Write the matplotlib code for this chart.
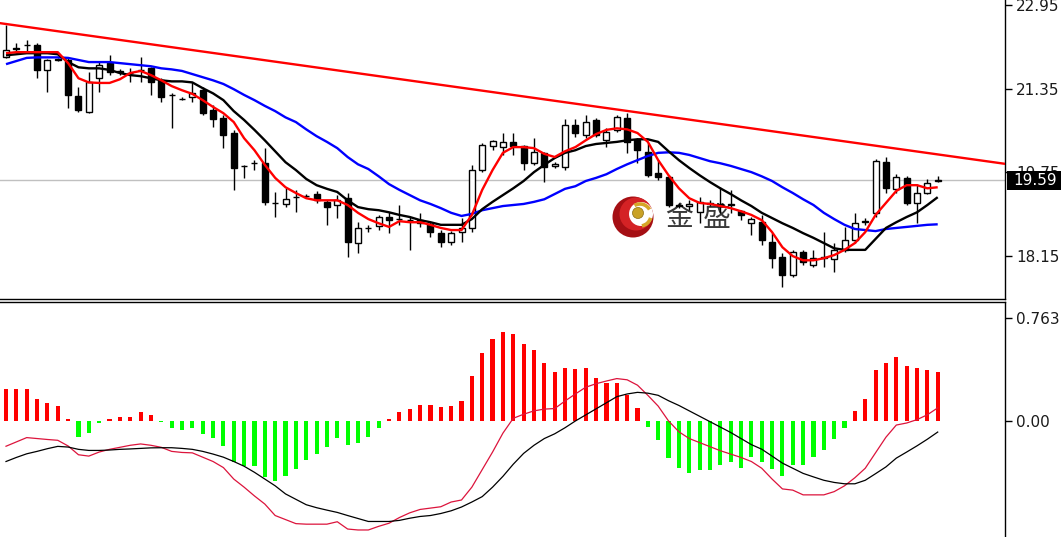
import matplotlib
matplotlib.use("Agg")
import matplotlib.pyplot as plt
from matplotlib.patches import Rectangle, Circle, Arc
from matplotlib.transforms import blended_transform_factory, Affine2D
import numpy as np

# ---------------- data ----------------
open_ = [21.95, 22.13, 22.18, 22.18, 21.71, 21.92, 21.90, 21.21, 20.90, 21.55,
         21.84, 21.69, 21.65, 21.71, 21.74, 21.51, 21.23, 21.15, 21.19, 21.32,
         20.94, 20.79, 20.50, 19.87, 19.92, 19.92, 19.16, 19.14, 19.27, 19.29,
         19.33, 19.18, 19.12, 19.25, 18.39, 18.68, 18.72, 18.89, 18.85, 18.83,
         18.83, 18.75, 18.58, 18.41, 18.60, 18.68, 19.79, 20.25, 20.23, 20.33,
         20.25, 19.92, 20.12, 19.87, 19.85, 20.65, 20.46, 20.75, 20.36, 20.56,
         20.79, 20.36, 20.13, 19.73, 19.66, 19.12, 19.10, 18.98, 19.16, 19.14,
         19.12, 19.00, 18.77, 18.79, 18.41, 18.12, 17.78, 18.22, 17.97, 18.10,
         18.08, 18.26, 18.45, 18.79, 18.97, 19.94, 19.43, 19.64, 19.16, 19.35,
         19.58]
high = [22.57, 22.22, 22.28, 22.22, 21.92, 21.94, 21.94, 21.38, 21.67, 21.86,
        21.99, 21.72, 21.74, 21.95, 21.76, 21.55, 21.26, 21.19, 21.47, 21.38,
        21.03, 20.84, 20.56, 19.89, 19.98, 20.21, 19.37, 19.44, 19.41, 19.33,
        19.39, 19.21, 19.31, 19.35, 18.79, 18.74, 18.93, 18.98, 19.12, 18.89,
        18.97, 18.79, 18.64, 18.62, 18.87, 19.89, 20.31, 20.36, 20.50, 20.50,
        20.27, 20.40, 20.13, 19.94, 20.77, 20.77, 20.84, 20.79, 20.59, 20.84,
        20.88, 20.40, 20.31, 19.98, 19.69, 19.16, 19.21, 19.27, 19.21, 19.46,
        19.41, 19.02, 18.89, 18.93, 18.58, 18.20, 18.26, 18.26, 18.26, 18.60,
        18.39, 18.70, 18.97, 18.87, 20.00, 20.04, 19.71, 19.67, 19.52, 19.62,
        19.67]
low = [21.94, 22.05, 22.03, 21.55, 21.28, 21.88, 20.98, 20.90, 20.88, 21.28,
       21.61, 21.61, 21.47, 21.47, 21.23, 21.09, 20.59, 21.13, 21.09, 20.84,
       20.61, 20.21, 19.41, 19.64, 19.79, 19.12, 18.89, 19.08, 18.98, 19.25,
       19.16, 18.74, 18.87, 18.12, 18.20, 18.60, 18.64, 18.58, 18.74, 18.26,
       18.70, 18.51, 18.31, 18.35, 18.41, 18.60, 19.75, 20.17, 20.08, 20.08,
       19.79, 19.89, 19.56, 19.83, 19.79, 20.42, 20.40, 20.42, 20.23, 20.52,
       20.12, 19.92, 19.66, 19.60, 19.08, 19.06, 19.02, 18.77, 19.10, 18.97,
       18.97, 18.83, 18.54, 18.35, 17.91, 17.55, 17.74, 17.97, 17.93, 17.93,
       17.83, 18.22, 18.39, 18.74, 18.89, 19.35, 19.35, 19.12, 18.77, 19.33,
       19.56]
close = [22.09, 22.12, 22.18, 21.71, 21.90, 21.90, 21.23, 20.94, 21.47, 21.80,
         21.67, 21.67, 21.65, 21.71, 21.47, 21.19, 21.23, 21.15, 21.26, 20.88,
         20.77, 20.46, 19.83, 19.87, 19.92, 19.18, 19.16, 19.23, 19.27, 19.29,
         19.21, 19.08, 19.21, 18.41, 18.68, 18.68, 18.89, 18.83, 18.85, 18.83,
         18.77, 18.60, 18.41, 18.58, 18.68, 19.79, 20.27, 20.34, 20.33, 20.25,
         19.92, 20.13, 19.85, 19.90, 20.65, 20.50, 20.71, 20.46, 20.52, 20.80,
         20.33, 20.17, 19.69, 19.66, 19.12, 19.10, 19.14, 19.18, 19.14, 19.10,
         19.14, 18.93, 18.85, 18.45, 18.10, 17.78, 18.22, 18.03, 18.10, 18.12,
         18.26, 18.45, 18.77, 18.81, 19.96, 19.44, 19.66, 19.16, 19.35, 19.54,
         19.59]

ma_fast = [22.03, 22.05, 22.05, 22.05, 22.05, 22.05, 21.84, 21.55, 21.47, 21.46,
           21.46, 21.53, 21.65, 21.69, 21.61, 21.51, 21.40, 21.32, 21.25, 21.13,
           21.00, 20.88, 20.71, 20.40, 20.17, 19.89, 19.64, 19.46, 19.35, 19.25,
           19.21, 19.21, 19.21, 19.12, 18.97, 18.85, 18.77, 18.70, 18.81, 18.79,
           18.79, 18.74, 18.68, 18.64, 18.64, 18.93, 19.41, 19.79, 20.12, 20.23,
           20.23, 20.21, 20.10, 20.04, 20.15, 20.23, 20.36, 20.48, 20.56, 20.59,
           20.57, 20.50, 20.33, 19.98, 19.69, 19.44, 19.25, 19.16, 19.14, 19.10,
           19.06, 19.00, 18.93, 18.83, 18.60, 18.31, 18.14, 18.06, 18.06, 18.10,
           18.16, 18.26, 18.39, 18.60, 18.93, 19.16, 19.39, 19.50, 19.50, 19.44,
           19.46]
ma_mid = [21.99, 22.01, 22.03, 22.03, 22.03, 22.01, 21.86, 21.76, 21.74, 21.74,
          21.71, 21.65, 21.61, 21.59, 21.55, 21.51, 21.49, 21.49, 21.47, 21.36,
          21.26, 21.13, 20.92, 20.75, 20.56, 20.36, 20.15, 19.94, 19.79, 19.62,
          19.50, 19.43, 19.37, 19.21, 19.08, 19.04, 19.02, 18.98, 18.93, 18.89,
          18.83, 18.79, 18.74, 18.74, 18.74, 18.85, 19.04, 19.18, 19.31, 19.44,
          19.58, 19.75, 19.89, 20.02, 20.12, 20.17, 20.25, 20.29, 20.31, 20.33,
          20.36, 20.38, 20.38, 20.33, 20.15, 19.98, 19.83, 19.69, 19.56, 19.44,
          19.33, 19.21, 19.10, 18.97, 18.87, 18.77, 18.68, 18.58, 18.49, 18.39,
          18.29, 18.26, 18.26, 18.26, 18.47, 18.68, 18.79, 18.89, 18.98, 19.12,
          19.27]
ma_slow = [21.82, 21.88, 21.94, 21.95, 21.95, 21.95, 21.94, 21.90, 21.86, 21.86,
           21.86, 21.84, 21.82, 21.80, 21.78, 21.74, 21.72, 21.69, 21.63, 21.57,
           21.51, 21.44, 21.34, 21.23, 21.13, 21.02, 20.92, 20.80, 20.71, 20.57,
           20.44, 20.33, 20.21, 20.04, 19.90, 19.81, 19.67, 19.52, 19.41, 19.31,
           19.21, 19.14, 19.06, 18.97, 18.91, 18.95, 19.02, 19.06, 19.10, 19.12,
           19.14, 19.18, 19.23, 19.33, 19.43, 19.48, 19.58, 19.64, 19.71, 19.81,
           19.90, 19.98, 20.06, 20.12, 20.13, 20.12, 20.08, 20.02, 19.96, 19.92,
           19.87, 19.81, 19.75, 19.67, 19.58, 19.46, 19.35, 19.23, 19.12, 18.97,
           18.85, 18.74, 18.66, 18.64, 18.62, 18.66, 18.68, 18.70, 18.72, 18.74,
           18.75]

trend_idx = [0, 90]
trend_price = [22.59, 20.09]

price_ticks = [22.95, 21.35, 19.75, 18.15]

macd_hist = [0.238, 0.238, 0.238, 0.163, 0.133, 0.113, 0.013, -0.118, -0.088, -0.018,
             0.013, 0.033, 0.033, 0.065, 0.045, -0.010, -0.050, -0.068, -0.050, -0.098,
             -0.125, -0.185, -0.300, -0.336, -0.336, -0.418, -0.444, -0.411, -0.356, -0.288,
             -0.243, -0.193, -0.125, -0.180, -0.163, -0.118, -0.050, 0.015, 0.065, 0.090,
             0.120, 0.120, 0.100, 0.113, 0.145, 0.333, 0.504, 0.609, 0.659, 0.647,
             0.570, 0.524, 0.429, 0.360, 0.396, 0.386, 0.396, 0.319, 0.284, 0.284,
             0.194, 0.097, -0.043, -0.138, -0.273, -0.350, -0.388, -0.363, -0.363, -0.324,
             -0.307, -0.350, -0.266, -0.307, -0.355, -0.409, -0.324, -0.324, -0.266, -0.215,
             -0.133, -0.049, 0.072, 0.161, 0.378, 0.429, 0.475, 0.409, 0.390, 0.378,
             0.360]
macd_dif = [-0.187, -0.155, -0.123, -0.130, -0.137, -0.143, -0.185, -0.250, -0.260, -0.230,
            -0.210, -0.195, -0.180, -0.170, -0.180, -0.195, -0.225, -0.233, -0.236, -0.268,
            -0.300, -0.345, -0.430, -0.490, -0.555, -0.615, -0.700, -0.730, -0.760, -0.764,
            -0.764, -0.764, -0.746, -0.800, -0.807, -0.807, -0.780, -0.757, -0.715, -0.680,
            -0.655, -0.645, -0.635, -0.600, -0.585, -0.490, -0.360, -0.230, -0.090, 0.020,
            0.050, 0.075, 0.088, 0.092, 0.148, 0.200, 0.250, 0.276, 0.296, 0.314,
            0.305, 0.265, 0.190, 0.110, 0.000, -0.080, -0.130, -0.160, -0.190, -0.220,
            -0.245, -0.270, -0.300, -0.350, -0.430, -0.503, -0.512, -0.547, -0.547, -0.547,
            -0.523, -0.480, -0.420, -0.350, -0.235, -0.120, -0.030, -0.015, 0.010, 0.046,
            0.097]
macd_dea = [-0.300, -0.270, -0.243, -0.225, -0.205, -0.188, -0.193, -0.210, -0.218, -0.218,
            -0.215, -0.210, -0.207, -0.203, -0.199, -0.198, -0.198, -0.203, -0.210, -0.225,
            -0.245, -0.268, -0.300, -0.335, -0.380, -0.430, -0.480, -0.540, -0.580, -0.620,
            -0.642, -0.660, -0.677, -0.700, -0.722, -0.744, -0.744, -0.744, -0.736, -0.720,
            -0.707, -0.700, -0.685, -0.665, -0.637, -0.600, -0.560, -0.490, -0.410, -0.320,
            -0.240, -0.180, -0.130, -0.095, -0.050, 0.000, 0.045, 0.090, 0.135, 0.180,
            0.200, 0.212, 0.206, 0.190, 0.150, 0.115, 0.075, 0.035, -0.005, -0.045,
            -0.085, -0.130, -0.175, -0.209, -0.260, -0.312, -0.350, -0.388, -0.414, -0.439,
            -0.455, -0.465, -0.465, -0.439, -0.390, -0.340, -0.275, -0.230, -0.184, -0.135,
            -0.082]
macd_ticks = [0.763, 0.0]
macd_labels = ["0.763", "0.00"]

# ---------------- figure ----------------
W, H = 1061, 537
fig = plt.figure(figsize=(W / 100, H / 100), dpi=100)
fig.patch.set_facecolor("white")
AX_R = 1005 / W
ax1 = fig.add_axes([0, (H - 299) / H, AX_R, 299 / H])
ax2 = fig.add_axes([0, 0, AX_R, (H - 302) / H])

o = np.array(open_); c = np.array(close)
idx = np.arange(len(c))
XLIM = (-0.58, 96.5)

ax1.set_xlim(*XLIM)
ax1.set_ylim(17.318, 23.05)
ax1.set_autoscale_on(False)

# watermark (under the candles), placed in figure pixels
px = Affine2D().scale(1 / W, -1 / H).translate(0, 1) + fig.transFigure
ax1.add_patch(Circle((633, 217), 20.5, facecolor="#a50f14", edgecolor="none",
                     transform=px, zorder=0.5))
ax1.add_patch(Circle((636, 214), 16.5, facecolor="#d42225", edgecolor="none",
                     transform=px, zorder=0.5))
ax1.add_patch(Circle((641, 214), 12, facecolor="white", edgecolor="none",
                     transform=px, zorder=0.5))
ax1.add_patch(Arc((640, 215), 22, 22, theta1=240, theta2=330, color="#d6a628",
                  lw=2.6, transform=px, zorder=0.6))
ax1.add_patch(Arc((640, 215), 22, 22, theta1=15, theta2=80, color="#d6a628",
                  lw=2.6, transform=px, zorder=0.6))
ax1.add_patch(Circle((638, 213), 5.5, facecolor="#c9a227", edgecolor="#8a6d12",
                     lw=0.5, transform=px, zorder=0.6))
for ch, xx in (("金", 665), ("盛", 703)):
    ax1.text(xx, 218, ch, fontsize=20, color="#3a3a3a", transform=px,
             family=["Noto Sans CJK SC", "DejaVu Sans"], va="center", ha="left",
             zorder=0.6)

# candles
ax1.vlines(idx, low, high, color="black", lw=1, zorder=2)
body_bottom = np.minimum(o, c)
body_h = np.abs(c - o)
body_col = ["white" if cc >= oo else "black" for oo, cc in zip(o, c)]
ax1.bar(idx, body_h, bottom=body_bottom, width=0.58, color=body_col,
        edgecolor="black", linewidth=1, zorder=3)

ax1.plot(idx, ma_slow, color="#0000ff", lw=1.7, zorder=4, solid_capstyle="butt")
ax1.plot(idx, ma_mid, color="#000000", lw=1.7, zorder=5, solid_capstyle="butt")
ax1.plot(idx, ma_fast, color="#ff0000", lw=1.7, zorder=6, solid_capstyle="butt")
ax1.axline((trend_idx[0], trend_price[0]), (trend_idx[1], trend_price[1]),
           color="#ff0000", lw=1.7, zorder=6)
ax1.axhline(c[-1], color="#c0c0c0", lw=1, zorder=1)

ax1.set_yticks(price_ticks)
ax1.set_yticklabels([f"{t:.2f}" for t in price_ticks])

# MACD panel
hist_col = ["#ff0000" if v > 0 else "#00ff00" for v in macd_hist]
ax2.bar(idx, macd_hist, width=0.4, color=hist_col, zorder=2)
ax2.plot(idx, macd_dif, color="#dc143c", lw=0.9, zorder=3)
ax2.plot(idx, macd_dea, color="#000000", lw=0.9, zorder=3)
ax2.set_xlim(*XLIM)
ax2.set_ylim(-0.859, 0.881)
ax2.set_yticks(macd_ticks)
ax2.set_yticklabels(macd_labels)

for ax in (ax1, ax2):
    ax.set_facecolor("white")
    ax.set_xticks([])
    ax.yaxis.tick_right()
    ax.tick_params(axis="y", direction="out", length=5, width=1, pad=3,
                   labelsize=11, labelcolor="#1a1a1a", color="black")
    ax.spines["left"].set_visible(False)
    ax.spines["right"].set_color("black")
    for s in ax.spines.values():
        s.set_linewidth(1)
ax1.spines["top"].set_visible(False)
ax1.spines["bottom"].set_color("black")
ax2.spines["bottom"].set_visible(False)
ax2.spines["top"].set_color("black")

# current price label
trans = blended_transform_factory(fig.transFigure, ax1.transData)
fig.add_artist(Rectangle((1007 / W, c[-1] - 0.182), (W - 1007) / W, 0.364,
                         transform=trans, facecolor="black", edgecolor="none",
                         zorder=10))
fig.text(1013 / W, c[-1], f"{c[-1]:.2f}", transform=trans, color="white",
         fontsize=11, va="center", ha="left", zorder=11)

fig.savefig("out.png", dpi=100, facecolor="white")
